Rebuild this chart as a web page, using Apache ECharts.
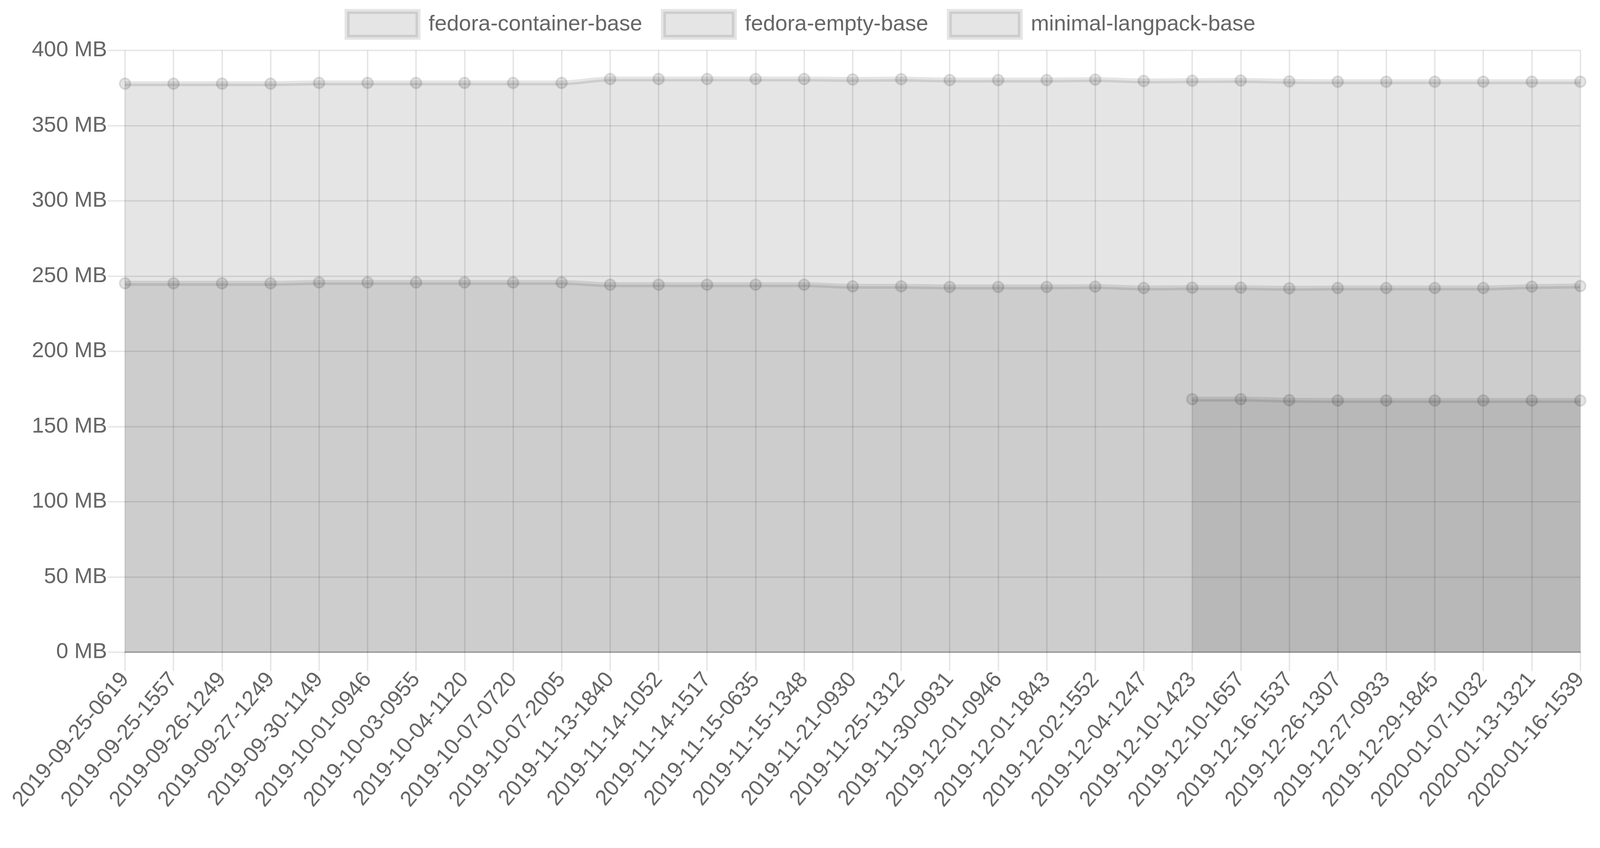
<!DOCTYPE html>
<html>
<head>
<meta charset="utf-8">
<script src="https://cdn.jsdelivr.net/npm/echarts@6/dist/echarts.min.js"></script>
<style>
html,body{margin:0;padding:0;background:#fff;overflow:hidden;}
#chart{width:100vw;height:100vh;}
</style>
</head>
<body>
<div id="chart"></div>
<script>
const categories = [
  "2019-09-25-0619","2019-09-25-1557","2019-09-26-1249","2019-09-27-1249","2019-09-30-1149",
  "2019-10-01-0946","2019-10-03-0955","2019-10-04-1120","2019-10-07-0720","2019-10-07-2005",
  "2019-11-13-1840","2019-11-14-1052","2019-11-14-1517","2019-11-15-0635","2019-11-15-1348",
  "2019-11-21-0930","2019-11-25-1312","2019-11-30-0931","2019-12-01-0946","2019-12-01-1843",
  "2019-12-02-1552","2019-12-04-1247","2019-12-10-1423","2019-12-10-1657","2019-12-16-1537",
  "2019-12-26-1307","2019-12-27-0933","2019-12-29-1845","2020-01-07-1032","2020-01-13-1321",
  "2020-01-16-1539"
];
const fedoraContainerBase = [
  377.9,377.9,377.9,377.9,378.4,378.4,378.4,378.4,378.4,378.4,
  381.0,381.0,381.0,381.0,381.0,380.7,380.9,380.3,380.3,380.3,
  380.6,379.7,379.9,380.0,379.4,379.2,379.2,379.2,379.2,379.2,379.2
];
const fedoraEmptyBase = [
  245.2,245.2,245.2,245.2,245.8,245.8,245.8,245.8,245.8,245.8,
  244.3,244.3,244.3,244.3,244.3,243.2,243.2,242.8,242.8,242.8,
  243.0,242.1,242.3,242.3,241.9,242.1,242.1,242.1,242.1,243.0,243.4
];
const minimalLangpackBase = [
  null,null,null,null,null,null,null,null,null,null,
  null,null,null,null,null,null,null,null,null,null,
  null,null,168.2,168.2,167.5,167.3,167.3,167.3,167.3,167.3,167.3
];
const yTicks = { min: 0, max: 400, interval: 50 };

const FILL = 'rgba(0,0,0,0.1)';
const FONT = 'Liberation Sans';

const W = window.innerWidth, H = window.innerHeight;
const sx = W / 4467, sy = H / 2170, s = Math.min(sx, sy);
const FS = 61 * s;

function mkSeries(name, data) {
  return {
    name: name,
    type: 'line',
    data: data,
    smooth: 0.3,
    symbol: 'circle',
    symbolSize: 30 * s,
    showSymbol: true,
    connectNulls: false,
    lineStyle: { color: FILL, width: 14 * s },
    itemStyle: { color: FILL, borderColor: FILL, borderWidth: 5 * s },
    areaStyle: { color: FILL, opacity: 1, origin: 'start' },
    emphasis: { disabled: true }
  };
}

const chart = echarts.init(document.getElementById('chart'), null, { renderer: 'canvas' });
chart.setOption({
  backgroundColor: '#fff',
  animation: false,
  textStyle: { fontFamily: FONT },
  legend: {
    top: 18 * sy,
    left: 'center',
    itemWidth: 198 * sx,
    itemHeight: 66 * sy,
    itemGap: 52 * sx,
    icon: 'rect',
    selectedMode: false,
    textStyle: { fontSize: FS, color: '#666', fontFamily: FONT, padding: [0, 0, 0, 24 * sx] },
    itemStyle: { color: FILL, borderColor: FILL, borderWidth: 14 * s },
    data: ['fedora-container-base', 'fedora-empty-base', 'minimal-langpack-base']
  },
  grid: {
    left: 349 * sx, right: 55 * sx, top: 129 * sy, bottom: 501 * sy,
    containLabel: false,
    outerBoundsMode: 'none'
  },
  xAxis: {
    type: 'category',
    data: categories,
    boundaryGap: false,
    axisLine: { show: true, lineStyle: { color: 'rgba(0,0,0,0.25)', width: 4 * s } },
    axisTick: { show: true, length: 48 * sy, interval: 0, lineStyle: { color: 'rgba(0,0,0,0.1)', width: 4 * s } },
    axisLabel: {
      interval: 0, rotate: 50, fontSize: FS, color: '#666', fontFamily: FONT, margin: 60 * sy
    },
    splitLine: { show: true, interval: 0, lineStyle: { color: 'rgba(0,0,0,0.1)', width: 4 * s } }
  },
  yAxis: {
    type: 'value',
    min: yTicks.min, max: yTicks.max, interval: yTicks.interval,
    axisLine: { show: false },
    axisTick: { show: true, length: 48 * sx, lineStyle: { color: 'rgba(0,0,0,0.1)', width: 4 * s } },
    axisLabel: { formatter: '{value} MB', fontSize: FS, color: '#666', fontFamily: FONT, margin: 50 * sx },
    splitLine: { show: true, lineStyle: { color: 'rgba(0,0,0,0.1)', width: 4 * s } }
  },
  series: [
    mkSeries('fedora-container-base', fedoraContainerBase),
    mkSeries('fedora-empty-base', fedoraEmptyBase),
    mkSeries('minimal-langpack-base', minimalLangpackBase)
  ]
});
</script>
</body>
</html>
